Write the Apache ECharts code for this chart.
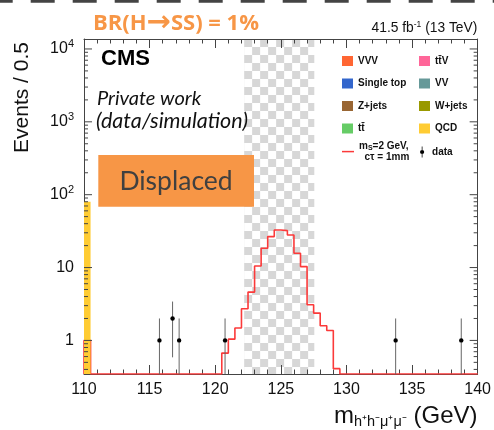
<!DOCTYPE html>
<html>
<head>
<meta charset="utf-8">
<script src="https://cdn.jsdelivr.net/npm/echarts@6/dist/echarts.min.js"></script>
<style>
  html, body { margin: 0; padding: 0; background: #ffffff; }
  #chart { width: 494px; height: 430px; }
</style>
</head>
<body>
<div id="chart"></div>
<script>
// ---- binning and axis ranges ----
const binWidth = 0.5;                 // GeV per bin
const xMin = 110, xMax = 140;
const yMin = 0.346, yMax = 13700;
const blindedRange = [122.2, 127.55]; // blinded mass window

// ---- backgrounds (bin low edges / contents) ----
const qcdBins = [110];
const qcdValues = [80];
const vvvValues = [];
const singleTopValues = [];
const zJetsValues = [];
const ttbarValues = [];
const ttvValues = [];
const vvValues = [];
const wJetsValues = [];

// ---- signal: m_S = 2 GeV, c*tau = 1 mm, 60 bins from 110 GeV ----
const signalValues = [
  1.0, 0, 0, 0, 0, 0, 0, 0, 0, 0,
  0, 0, 0, 0, 0, 0, 0, 0, 0, 0,
  0, 0.67, 1.04, 1.48, 2.72, 4.6, 10.5, 18.4, 26.6, 32.8,
  32.1, 28.0, 15.7, 10.3, 3.08, 2.37, 1.59, 1.37, 0.41, 0,
  0, 0, 0, 0, 0, 0, 0, 0, 0, 0,
  0, 0, 0, 0, 0, 0, 0, 0, 0, 0
];

// ---- observed data (bin centres / counts) ----
const dataMass = [115.75, 116.75, 117.25, 120.75, 133.75, 138.75];
const dataCounts = [1, 2, 1, 1, 1, 1];

const colors = {
  vvv: '#ff6633', singleTop: '#3366cc', zJets: '#996633', ttbar: '#66cc66',
  ttv: '#ff6699', vv: '#669999', wJets: '#999900', qcd: '#ffcc33',
  signal: '#fb3a3a', data: '#000000'
};

const TT = 't\u0074\u0304';

// histogram outline points for the step line (empty bins sit on the axis floor)
const signalLine = [[xMin, yMin]];
signalValues.forEach((v, i) => signalLine.push([xMin + i * binWidth, Math.max(v, yMin)]));
signalLine.push([xMax, Math.max(signalValues[signalValues.length - 1], yMin)]);

// ROOT-style log ticks: decades and 2..9 x 10^k
const yMajor = [], yMinor = [];
for (let e = -1; e <= 5; e++) {
  for (let m = 1; m <= 9; m++) {
    const v = m * Math.pow(10, e);
    if (v > yMin && v < yMax) (m === 1 ? yMajor : yMinor).push(v);
  }
}
const yTickData = yMajor.map(v => [xMin, v, 1]).concat(yMinor.map(v => [xMin, v, 0]));

function checkerTile(size, c1, c2) {
  const cv = document.createElement('canvas');
  cv.width = cv.height = size * 2;
  const ctx = cv.getContext('2d');
  ctx.fillStyle = c2; ctx.fillRect(0, 0, size * 2, size * 2);
  ctx.fillStyle = c1; ctx.fillRect(0, 0, size, size); ctx.fillRect(size, size, size, size);
  return cv;
}
const tile = checkerTile(8, '#d7d7d7', '#ffffff');

function renderBins(params, api) {
  const lo = api.value(0), v = api.value(1);
  const a = api.coord([lo, v]);
  const b = api.coord([lo + binWidth, yMin]);
  return {
    type: 'rect',
    shape: { x: a[0], y: a[1], width: b[0] - a[0], height: b[1] - a[1] },
    style: { fill: api.visual('color') }
  };
}

function renderBlind(params, api) {
  const a = api.coord([api.value(0), yMax]);
  const b = api.coord([api.value(1), yMin]);
  return {
    type: 'rect',
    shape: { x: a[0], y: a[1], width: b[0] - a[0], height: b[1] - a[1] },
    style: { fill: { image: tile, repeat: 'repeat', x: a[0], y: a[1] } }
  };
}

function renderData(params, api) {
  const x = api.value(0), n = api.value(1), err = Math.sqrt(n);
  const c = api.coord([x, n]);
  const hi = api.coord([x, n + err]);
  const lo = api.coord([x, Math.max(n - err, yMin)]);
  return {
    type: 'group',
    children: [
      { type: 'line', shape: { x1: c[0], y1: hi[1], x2: c[0], y2: lo[1] },
        style: { stroke: '#666', lineWidth: 1 } },
      { type: 'circle', shape: { cx: c[0], cy: c[1], r: 2.2 }, style: { fill: '#000' } }
    ]
  };
}

function renderYTicks(params, api) {
  const v = api.value(1), major = api.value(2) === 1;
  const len = major ? 8 : 4;
  const l = api.coord([xMin, v]), r = api.coord([xMax, v]);
  const st = { stroke: '#444', lineWidth: 1 };
  return {
    type: 'group',
    children: [
      { type: 'line', shape: { x1: l[0], y1: l[1], x2: l[0] + len, y2: l[1] }, style: st },
      { type: 'line', shape: { x1: r[0] - len, y1: r[1], x2: r[0], y2: r[1] }, style: st }
    ]
  };
}

function bgSeries(name, color, bins, values) {
  return {
    name: name, type: 'custom', renderItem: renderBins, z: 12, clip: true,
    itemStyle: { color: color },
    data: bins.map((b, i) => [b, values[i]])
  };
}

const axisCol = '#444';
const xAxisBase = {
  type: 'value', min: xMin, max: xMax, interval: 5, z: 10,
  axisLine: { show: true, lineStyle: { color: axisCol, width: 1 } },
  axisTick: { show: true, inside: true, length: 9, lineStyle: { color: axisCol } },
  minorTick: { show: true, splitNumber: 5, length: 4.5, lineStyle: { color: axisCol } },
  splitLine: { show: false }, minorSplitLine: { show: false }
};
const yAxisBase = {
  type: 'log', logBase: 10, min: yMin, max: yMax, z: 10,
  axisLine: { show: true, lineStyle: { color: axisCol, width: 1 } },
  axisTick: { show: false }, minorTick: { show: false },
  splitLine: { show: false }
};

const legendText = {
  fontFamily: 'Liberation Sans', fontWeight: 'bold', fontSize: 10, color: '#111', lineHeight: 12
};

const option = {
  animation: false,
  backgroundColor: '#ffffff',
  grid: { left: 84, right: 16, top: 39, bottom: 56 },
  xAxis: [
    Object.assign({}, xAxisBase, {
      position: 'bottom',
      axisLabel: { show: true, margin: 8, fontFamily: 'Liberation Sans', fontSize: 16, color: '#111' }
    }),
    Object.assign({}, xAxisBase, { position: 'top', axisLabel: { show: false } })
  ],
  yAxis: [
    Object.assign({}, yAxisBase, {
      position: 'left',
      axisLabel: {
        show: true, margin: 10, fontFamily: 'Liberation Sans', color: '#111',
        formatter: function (v) {
          const l = Math.log10(v), r = Math.round(l);
          if (Math.abs(l - r) > 1e-6) return '';
          if (r === 0) return '{b|1}';
          if (r === 1) return '{b|10}';
          return '{b|10}{s|' + r + '}';
        },
        rich: {
          b: { fontFamily: 'Liberation Sans', fontSize: 16, lineHeight: 20, color: '#111' },
          s: { fontFamily: 'Liberation Sans', fontSize: 11, lineHeight: 11, verticalAlign: 'top', color: '#111' }
        }
      }
    }),
    Object.assign({}, yAxisBase, { position: 'right', axisLabel: { show: false } })
  ],
  legend: [
    {
      left: 342, top: 55, orient: 'vertical', padding: 0, itemGap: 10.5,
      itemWidth: 11, itemHeight: 10, icon: 'rect', selectedMode: false,
      textStyle: legendText,
      data: ['VVV', 'Single top', 'Z+jets', TT]
    },
    {
      left: 419, top: 55, orient: 'vertical', padding: 0, itemGap: 10.5,
      itemWidth: 11, itemHeight: 10, icon: 'rect', selectedMode: false,
      textStyle: legendText,
      data: [TT + 'V', 'VV', 'W+jets', 'QCD']
    },
    {
      left: 342, top: 141, orient: 'vertical', padding: 0,
      itemWidth: 12, itemHeight: 1.5, icon: 'rect', selectedMode: false,
      textStyle: Object.assign({}, legendText, {
        lineHeight: 10.6,
        rich: {
          t: { fontFamily: 'Liberation Sans', fontWeight: 'bold', fontSize: 10, lineHeight: 10.6, color: '#111' },
          sub: { fontFamily: 'Liberation Sans', fontWeight: 'bold', fontSize: 7, lineHeight: 7, verticalAlign: 'bottom', color: '#111' }
        }
      }),
      formatter: function () { return '{t|m}{sub|S}{t|=2 GeV,}\n{t|  c\u03c4 = 1mm}'; },
      data: ['signal']
    },
    {
      left: 420, top: 146, orient: 'vertical', padding: 0,
      itemWidth: 10, itemHeight: 11, selectedMode: false,
      icon: 'path://M4.6,0 L5.4,0 L5.4,12 L4.6,12 Z M7.3,6 A2.3,2.3 0 1 1 2.7,6 A2.3,2.3 0 1 1 7.3,6 Z',
      textStyle: legendText,
      data: ['data']
    }
  ],
  series: [
    {
      name: 'blinded', type: 'custom', renderItem: renderBlind, z: 1, clip: true,
      silent: true, data: [[blindedRange[0], blindedRange[1]]]
    },
    {
      name: 'signal', type: 'line', step: 'end', data: signalLine, z: 11, clip: true,
      symbol: 'none', showSymbol: false, itemStyle: { color: colors.signal },
      lineStyle: { color: colors.signal, width: 1.6 }
    },
    bgSeries('VVV', colors.vvv, [], vvvValues),
    bgSeries('Single top', colors.singleTop, [], singleTopValues),
    bgSeries('Z+jets', colors.zJets, [], zJetsValues),
    bgSeries(TT, colors.ttbar, [], ttbarValues),
    bgSeries(TT + 'V', colors.ttv, [], ttvValues),
    bgSeries('VV', colors.vv, [], vvValues),
    bgSeries('W+jets', colors.wJets, [], wJetsValues),
    bgSeries('QCD', colors.qcd, qcdBins, qcdValues),
    {
      name: 'ticks', type: 'custom', renderItem: renderYTicks, z: 13, clip: false,
      silent: true, data: yTickData
    },
    {
      name: 'data', type: 'custom', renderItem: renderData, z: 14, clip: true,
      itemStyle: { color: colors.data },
      data: dataMass.map((m, i) => [m, dataCounts[i]])
    }
  ],
  graphic: [
    { type: 'line', silent: true,
      shape: { x1: -11.3, y1: 1.3, x2: 494, y2: 1.3 },
      style: { stroke: '#444', lineWidth: 2.7, lineDash: [24, 18] } },
    { type: 'text', x: 93, y: 23.7,
      style: {
        text: '{a|BR(H}{r|\u2192}{a|SS) = 1%}',
        align: 'left', verticalAlign: 'middle', textAlign: 'left', textVerticalAlign: 'middle',
        rich: {
          a: { fontFamily: 'Open Sans', fontWeight: 'bold', fontSize: 22, lineHeight: 26, fill: '#f79646' },
          r: { fontFamily: 'DejaVu Sans', fontWeight: 'bold', fontSize: 29, lineHeight: 26, fill: '#f79646' }
        }
      } },
    { type: 'text', x: 477.3, y: 28,
      style: {
        text: '{n|41.5 fb}{s|-1}{n| (13 TeV)}',
        align: 'right', verticalAlign: 'middle', textAlign: 'right', textVerticalAlign: 'middle',
        rich: {
          n: { fontFamily: 'Liberation Sans', fontSize: 13.8, lineHeight: 15, fill: '#111' },
          s: { fontFamily: 'Liberation Sans', fontSize: 8.5, lineHeight: 8, verticalAlign: 'top', fill: '#111' }
        }
      } },
    { type: 'text', x: 101, y: 59.2, z: 20,
      style: { text: 'CMS', font: 'bold 22px "Liberation Sans"', fill: '#000',
               align: 'left', verticalAlign: 'middle', textAlign: 'left', textVerticalAlign: 'middle' } },
    { type: 'text', x: 97, y: 98.3, z: 20,
      style: { text: 'Private work', font: 'italic 20px Lato', fill: '#111',
               align: 'left', verticalAlign: 'middle', textAlign: 'left', textVerticalAlign: 'middle' } },
    { type: 'text', x: 96, y: 121, z: 20,
      style: { text: '(data/simulation)', font: 'italic 21.5px Lato', fill: '#111',
               align: 'left', verticalAlign: 'middle', textAlign: 'left', textVerticalAlign: 'middle' } },
    { type: 'rect', z: 20, shape: { x: 98.3, y: 155, width: 155.7, height: 51.7 },
      style: { fill: '#f79646' } },
    { type: 'text', x: 176, y: 181, z: 21,
      style: { text: 'Displaced', font: '26.5px Lato', fill: '#404040',
               align: 'center', verticalAlign: 'middle', textAlign: 'center', textVerticalAlign: 'middle' } },
    { type: 'text', x: 22.5, y: 97.5, rotation: Math.PI / 2,
      style: { text: 'Events / 0.5', font: '21px "Liberation Sans"', fill: '#111',
               align: 'center', verticalAlign: 'middle', textAlign: 'center', textVerticalAlign: 'middle' } },
    { type: 'text', x: 477.5, y: 416,
      style: {
        text: '{m|m}{sub|h\u207Ah\u207B\u03BC\u207A\u03BC\u207B}{m| (GeV)}',
        align: 'right', verticalAlign: 'middle', textAlign: 'right', textVerticalAlign: 'middle',
        rich: {
          m: { fontFamily: 'Liberation Sans', fontSize: 24, lineHeight: 26, fill: '#111' },
          sub: { fontFamily: 'Liberation Sans', fontSize: 14.5, lineHeight: 13, verticalAlign: 'bottom', fill: '#111' }
        }
      } }
  ]
};

const chart = echarts.init(document.getElementById('chart'), null, { renderer: 'canvas' });
chart.setOption(option);
</script>
</body>
</html>
